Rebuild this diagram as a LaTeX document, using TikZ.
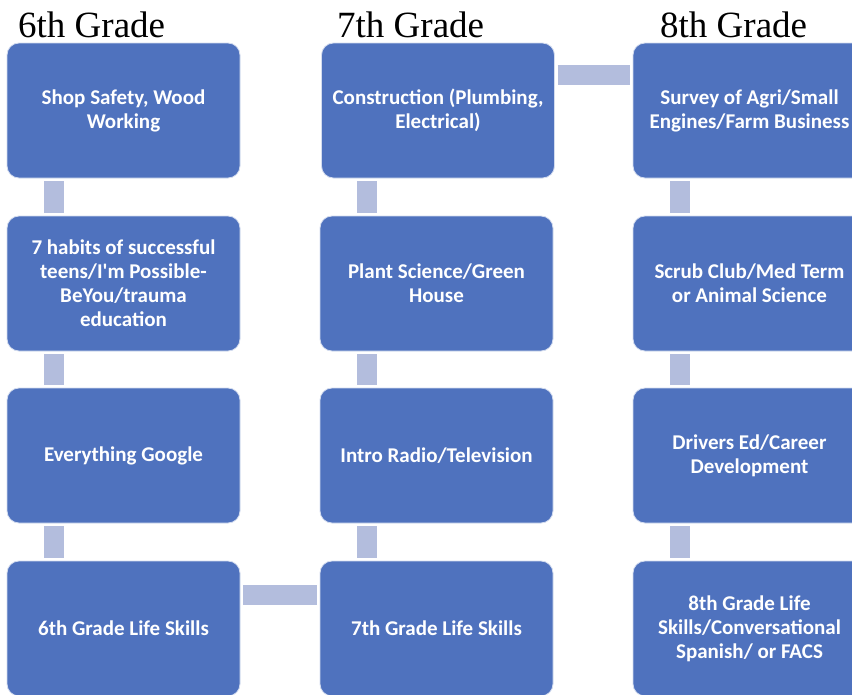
\documentclass[tikz,border=0pt]{standalone}
\usepackage{fontspec}
\setmainfont{Liberation Serif}
\newfontfamily\boxfont{Carlito}
\definecolor{boxblue}{HTML}{4F72BE}
\definecolor{connblue}{HTML}{B3BDDD}
\tikzset{
  gradebox/.style={rectangle, rounded corners=12pt, fill=boxblue, draw=white!75!boxblue, line width=0.8pt,
    minimum width=233pt, minimum height=135pt, inner sep=0pt, text=white, align=center,
    font=\boxfont\bfseries\fontsize{21}{24}\selectfont},
  gradetitle/.style={anchor=base west, inner sep=0pt, font=\fontsize{37}{40}\selectfont},
  conn/.style={draw=connblue, line width=20pt, shorten <=3pt, shorten >=3pt},
}
\begin{document}
\begin{tikzpicture}[x=1pt,y=-1pt]
\useasboundingbox (0,0) rectangle (852,694);
\fill[white] (0,0) rectangle (852,694);
\begin{scope}
\clip (0,0) rectangle (852,694);
\node[gradetitle] (t6) at (18,37) {6th Grade};
\node[gradetitle] (t7) at (337,37) {7th Grade};
\node[gradetitle] (t8) at (660,37) {8th Grade};

\node[gradebox] (a1) at (123.5,110.5) {Shop Safety, Wood\\Working};
\node[gradebox] (a2) at (123.5,283.5) {7 habits of successful\\teens/I'm Possible-\\BeYou/trauma\\education};
\node[gradebox] (a3) at (123.5,455.5) {Everything Google};
\node[gradebox] (a4) at (123.5,628.5) {6th Grade Life Skills};

\node[gradebox] (b1) at (438,110.5) {Construction (Plumbing,\\Electrical)};
\node[gradebox] (b2) at (436.5,283.5) {Plant Science/Green\\House};
\node[gradebox] (b3) at (436.5,455.5) {Intro Radio/Television};
\node[gradebox] (b4) at (436.5,628.5) {7th Grade Life Skills};

\node[gradebox] (c1) at (749.5,110.5) {Survey of Agri/Small\\Engines/Farm Business};
\node[gradebox] (c2) at (749.5,283.5) {Scrub Club/Med Term\\or Animal Science};
\node[gradebox] (c3) at (749.5,455.5) {Drivers Ed/Career\\Development};
\node[gradebox] (c4) at (749.5,628.5) {8th Grade Life\\Skills/Conversational\\Spanish/ or FACS};

\foreach \u/\v in {a1/a2,a2/a3,a3/a4,b1/b2,b2/b3,b3/b4,c1/c2,c2/c3,c3/c4}
  \draw[conn] ([xshift=47pt]\v.north west |- \u.south) -- ([xshift=47pt]\v.north west);
\draw[conn] ([yshift=-34pt]a4.north east) -- ([yshift=-34pt]b4.north west);
\draw[conn] ([yshift=-32pt]b1.north east) -- ([yshift=-32pt]c1.north west);
\end{scope}
\end{tikzpicture}
\end{document}
